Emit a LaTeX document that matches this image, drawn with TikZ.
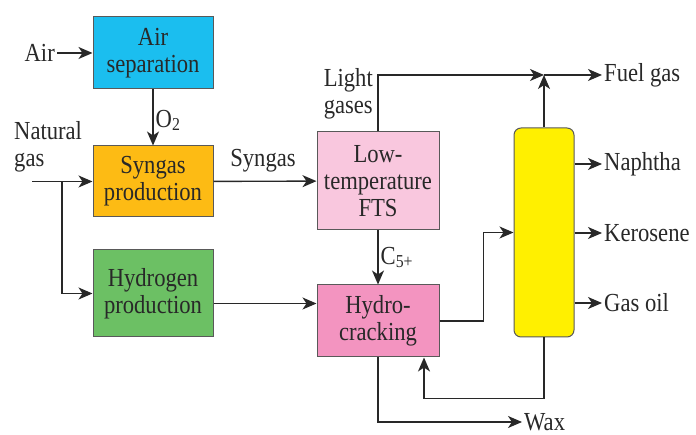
\documentclass[tikz,border=0pt]{standalone}
\usepackage{fontspec}
\setmainfont{Liberation Serif}[FakeStretch=0.87]
\usepackage{tikz}
\usetikzlibrary{arrows.meta,positioning,calc}
\definecolor{boxcyan}{RGB}{27,190,239}
\definecolor{boxorange}{RGB}{253,187,20}
\definecolor{boxgreen}{RGB}{108,192,100}
\definecolor{boxpink}{RGB}{249,199,222}
\definecolor{boxmagenta}{RGB}{243,148,192}
\definecolor{boxyellow}{RGB}{255,240,0}
\definecolor{inkgray}{RGB}{40,40,40}
\tikzset{
  unitbox/.style={
    rectangle,
    draw=black!65,
    line width=1pt,
    minimum width=120pt,
    minimum height=72pt,
    align=center,
    inner sep=1pt,
    text=inkgray,
    font=\fontsize{26}{27}\selectfont
  },
  lbl/.style={
    inner sep=2pt,
    align=left,
    text=inkgray,
    font=\fontsize{26}{27}\selectfont
  },
  flow/.style={-{Stealth[length=14pt,width=12pt,inset=4pt]}, line width=1.4pt, inkgray}
}

\begin{document}
\begin{tikzpicture}[x=1pt,y=-1pt]
\useasboundingbox (0,0) rectangle (696,435);
% process units
\node[unitbox, fill=boxcyan] (airsep) at (153,53) {Air\\separation};
\node[unitbox, fill=boxorange, minimum height=71pt] (syn) at (153,181.5) {Syngas\\production};
\node[unitbox, fill=boxgreen, minimum height=87pt] (hyd) at (153,293.5) {Hydrogen\\production};
\node[unitbox, fill=boxpink, minimum width=122pt, minimum height=98pt] (fts) at (378,181) {Low-\\temperature\\FTS};
\node[unitbox, fill=boxmagenta, minimum width=122pt, minimum height=72pt] (hc) at (378,321) {Hydro-\\cracking};
\node[unitbox, fill=boxyellow, rounded corners=7pt, minimum width=60pt, minimum height=209pt] (col) at (544,232.5) {};
% stream labels
\node[lbl, anchor=east] (air) at (57,53) {Air};
\node[lbl, anchor=north west] (ng) at (12,119) {Natural\\gas};
\node[lbl, anchor=south] (synlbl) at (263,174) {Syngas};
\node[lbl, anchor=east] (light) at (375,94) {Light\\gases};
\node[lbl, anchor=west] (fuel) at (602,75) {Fuel gas};
\node[lbl, anchor=west] (naph) at (602,164) {Naphtha};
\node[lbl, anchor=west] (kero) at (602,233) {Kerosene};
\node[lbl, anchor=west] (gasoil) at (602,303) {Gas oil};
\node[lbl, anchor=west] (wax) at (522,422) {Wax};
\coordinate (ngin) at (32,181.5);
\coordinate (split) at (62,181.5);
\coordinate (fuelj) at (544,75);
\coordinate (h2) at ([yshift=-10pt]hyd.east);
% connectors
\draw[flow] (air) -- (airsep);
\draw[flow] (airsep) -- node[lbl, right, pos=0.55]{O\textsubscript{2}} (syn);
\draw[flow] (ngin) -- (syn);
\draw[flow] (split) |- (hyd.west);
\draw[flow] (syn) -- (fts);
\draw[flow] (fts.north) |- (fuelj);
\draw[flow] (col.north) -- (fuelj);
\draw[flow] (fuelj) -- (fuel.west);
\draw[flow] (fts) -- node[lbl, right, pos=0.5]{C\textsubscript{5+}} (hc);
\draw[flow] (h2) -- (h2 -| hc.west);
\draw[flow] (hc.east) -- ++(44,0) |- (col.west);
\draw[flow] (col.east |- naph.west) -- (naph.west);
\draw[flow] (col.east |- kero.west) -- (kero.west);
\draw[flow] (col.east |- gasoil.west) -- (gasoil.west);
\draw[flow] (col.south) -- ++(0,61) -| ([xshift=46pt]hc.south);
\draw[flow] (hc.south) |- (wax.west);
\end{tikzpicture}
\end{document}
